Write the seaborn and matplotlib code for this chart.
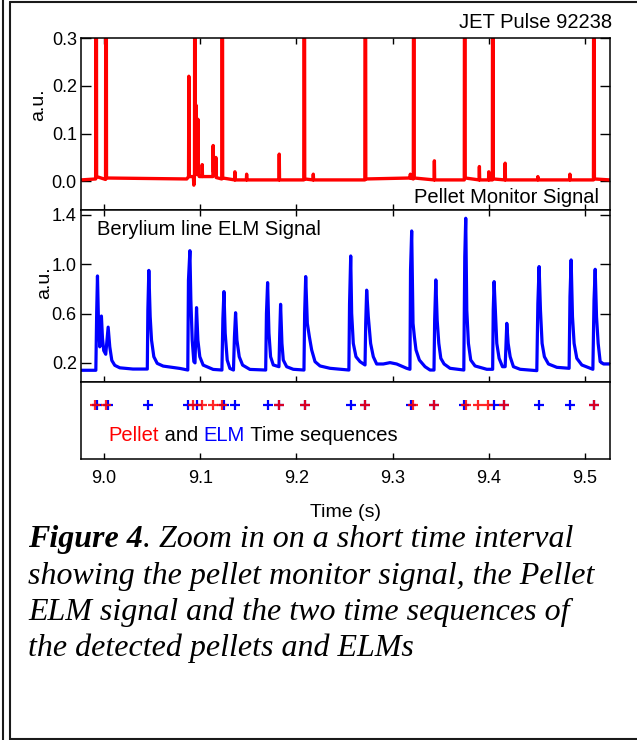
import matplotlib
matplotlib.use("Agg")
import matplotlib.pyplot as plt
from matplotlib.lines import Line2D
import seaborn as sns
import pandas as pd

# ---------------- data ----------------
# Pellet monitor signal: traced vertices (time [s], a.u.)
pellet_sig_t = [8.976, 8.9912, 8.9917, 8.9922, 9.0015, 9.0020, 9.0025,
                9.0860, 9.0878, 9.0881, 9.0884, 9.0928, 9.0933, 9.0938, 9.0940,
                9.0944, 9.0948,
                9.0951, 9.0954, 9.0957, 9.0972, 9.0975, 9.0978, 9.0990,
                9.1017, 9.1020, 9.1023, 9.1131, 9.1134, 9.1137, 9.1159, 9.1162,
                9.1165, 9.1223, 9.1228, 9.1233, 9.1357, 9.1360, 9.1363,
                9.1479, 9.1482, 9.1485, 9.1818, 9.1821, 9.1824, 9.2076, 9.2081,
                9.2086, 9.2172, 9.2175, 9.2178, 9.2711, 9.2716, 9.2721,
                9.3181, 9.3184, 9.3187, 9.3215, 9.3220, 9.3225, 9.3431, 9.3434,
                9.3437, 9.3745, 9.3750, 9.3755, 9.3899, 9.3902, 9.3905,
                9.3997, 9.4000, 9.4003, 9.4037, 9.4042, 9.4047, 9.4167, 9.4170,
                9.4173, 9.4507, 9.4510, 9.4513, 9.4840, 9.4843, 9.4846,
                9.5088, 9.5093, 9.5098, 9.526]
pellet_sig_v = [0.003, 0.005, 1.0, 0.010, 0.004, 1.0, 0.007,
                0.005, 0.010, 0.22, 0.010, 0.010, -0.008, 0.010, 0.010,
                1.0, 0.020,
                0.015, 0.16, 0.020, 0.015, 0.13, 0.015, 0.010,
                0.010, 0.035, 0.010, 0.010, 0.075, 0.020, 0.012, 0.050,
                0.008, 0.005, 1.0, 0.007, 0.003, 0.020, 0.003,
                0.003, 0.015, 0.003, 0.003, 0.057, 0.003, 0.003, 1.0,
                0.005, 0.003, 0.015, 0.003, 0.003, 1.0, 0.005,
                0.007, 0.015, 0.007, 0.005, 1.0, 0.007, 0.003, 0.043,
                0.003, 0.003, 1.0, 0.007, 0.003, 0.031, 0.003,
                0.003, 0.020, 0.003, 0.003, 1.0, 0.005, 0.003, 0.038,
                0.003, 0.003, 0.010, 0.003, 0.003, 0.015, 0.003,
                0.003, 1.0, 0.005, 0.003]

# Beryllium line ELM signal: traced vertices (time [s], a.u.)
elm_sig_t = [8.976, 8.985, 8.9914, 8.9923, 8.9931, 8.9941, 8.9955, 8.9972, 8.9983,
             8.9996, 9.0017, 9.0042, 9.0059, 9.0080, 9.0111, 9.0163, 9.0300, 9.0449,
             9.0455, 9.0465, 9.0479, 9.0493, 9.0517, 9.0552, 9.0614, 9.0788, 9.0870,
             9.0877, 9.0892, 9.0902, 9.0916, 9.0933, 9.0945,
             9.0954, 9.0961, 9.0975, 9.0995, 9.1030, 9.1134, 9.1225,
             9.1235, 9.1246, 9.1259, 9.1280, 9.1308, 9.1345,
             9.1355, 9.1367, 9.1381, 9.1405, 9.1440, 9.1516, 9.1680,
             9.1688, 9.1700, 9.1714, 9.1731, 9.1759, 9.1818,
             9.1826, 9.1835, 9.1849, 9.1863, 9.1898, 9.1967, 9.2078,
             9.2085, 9.2096, 9.2113, 9.2134, 9.2158, 9.2193, 9.2245, 9.2349, 9.2545,
             9.2552, 9.2564, 9.2574, 9.2591, 9.2619, 9.2661, 9.2713,
             9.2720, 9.2730, 9.2747, 9.2771, 9.2799, 9.2834, 9.2903, 9.2973, 9.3042,
             9.3146, 9.3180,
             9.3186, 9.3198, 9.3212, 9.3226, 9.3243, 9.3278, 9.3337, 9.3389, 9.3430,
             9.3437, 9.3449, 9.3463, 9.3480, 9.3501, 9.3535, 9.3597, 9.3740,
             9.3750, 9.3760, 9.3771, 9.3788, 9.3812, 9.3857, 9.3979, 9.4040,
             9.4046, 9.4055, 9.4069, 9.4083, 9.4107, 9.4142, 9.4170,
             9.4178, 9.4187, 9.4201, 9.4222, 9.4256, 9.4326, 9.4499,
             9.4510, 9.4523, 9.4537, 9.4554, 9.4578, 9.4620, 9.4707, 9.4835,
             9.4844, 9.4856, 9.4870, 9.4887, 9.4915, 9.4967, 9.5082,
             9.5094, 9.5106, 9.5120, 9.5137, 9.5158, 9.5193, 9.526]
elm_sig_v = [0.140, 0.140, 0.140, 0.620, 0.905, 0.550, 0.330, 0.580, 0.400,
             0.300, 0.270, 0.490, 0.330, 0.220, 0.180, 0.160, 0.150, 0.150,
             0.630, 0.950, 0.575, 0.385, 0.250, 0.196, 0.174, 0.155, 0.142,
             0.870, 1.110, 0.710, 0.385, 0.210, 0.200,
             0.466, 0.648, 0.385, 0.250, 0.182, 0.147, 0.142,
             0.560, 0.778, 0.440, 0.223, 0.155, 0.142,
             0.410, 0.607, 0.385, 0.250, 0.182, 0.147, 0.142,
             0.600, 0.851, 0.440, 0.250, 0.183, 0.169,
             0.440, 0.675, 0.358, 0.223, 0.169, 0.148, 0.142,
             0.600, 0.900, 0.521, 0.413, 0.305, 0.210, 0.175, 0.156, 0.142,
             0.680, 1.067, 0.602, 0.358, 0.250, 0.210, 0.183,
             0.520, 0.790, 0.575, 0.358, 0.250, 0.191, 0.191, 0.202, 0.191,
             0.156, 0.148,
             0.950, 1.270, 0.521, 0.413, 0.305, 0.223, 0.169, 0.142, 0.142,
             0.550, 0.873, 0.548, 0.358, 0.237, 0.191, 0.156, 0.142,
             1.060, 1.373, 0.629, 0.358, 0.223, 0.175, 0.148, 0.148,
             0.630, 0.859, 0.602, 0.358, 0.237, 0.169, 0.169,
             0.345, 0.521, 0.358, 0.250, 0.169, 0.148, 0.137,
             0.680, 0.981, 0.629, 0.358, 0.250, 0.191, 0.164, 0.156,
             0.740, 1.035, 0.575, 0.358, 0.237, 0.183, 0.148,
             0.710, 0.959, 0.575, 0.358, 0.210, 0.191, 0.191]

# Detected time sequences (s)
pellet_times = [8.9910, 9.0020, 9.0926, 9.1013, 9.1128, 9.1222, 9.1821, 9.2088,
                9.2713, 9.3215, 9.3434, 9.3764, 9.3886, 9.3990, 9.4162, 9.5094]
elm_times = [8.9930, 9.0042, 9.0458, 9.0874, 9.0961, 9.1246, 9.1360, 9.1707,
             9.1821, 9.2088, 9.2567, 9.2713, 9.3190, 9.3434, 9.3743, 9.4055,
             9.4162, 9.4523, 9.4846, 9.5094]

x_ticks = [9.0, 9.1, 9.2, 9.3, 9.4, 9.5]
x_tick_labels = ["9.0", "9.1", "9.2", "9.3", "9.4", "9.5"]
pm_ticks = [0.0, 0.1, 0.2, 0.3]
pm_tick_labels = ["0.0", "0.1", "0.2", "0.3"]
elm_ticks = [0.2, 0.6, 1.0, 1.4]
elm_tick_labels = ["0.2", "0.6", "1.0", "1.4"]

# ---------------- styling ----------------
sns.set_style("ticks")
plt.rcParams["font.family"] = ["Liberation Sans", "DejaVu Sans"]
for key in ("text.color", "axes.labelcolor", "xtick.color", "ytick.color",
            "axes.edgecolor"):
    plt.rcParams[key] = "black"
plt.rcParams["axes.linewidth"] = 1.1

RED = "#ff0000"
BLUE = "#0000ff"
ANN = 14.5   # annotation font size
TCK = 13     # tick label font size

fig = plt.figure(figsize=(6.37, 7.40), dpi=100)
fig.patch.set_facecolor("white")

L, W = 0.1272, 0.8304
ax1 = fig.add_axes([L, 0.7162, W, 0.2324])
ax2 = fig.add_axes([L, 0.4838, W, 0.2324])
ax3 = fig.add_axes([L, 0.3797, W, 0.1041])

xlim = (8.976, 9.526)

# top: pellet monitor
pm_df = pd.DataFrame({"t": pellet_sig_t, "v": pellet_sig_v})
sns.lineplot(data=pm_df, x="t", y="v", ax=ax1, color=RED, linewidth=2.4,
             estimator=None, sort=False)
ax1.set_ylim(-0.06, 0.30)
ax1.set_yticks(pm_ticks)
ax1.set_yticklabels(pm_tick_labels)

# middle: ELM
elm_df = pd.DataFrame({"t": elm_sig_t, "v": elm_sig_v})
sns.lineplot(data=elm_df, x="t", y="v", ax=ax2, color=BLUE, linewidth=2.3,
             estimator=None, sort=False)
ax2.set_ylim(0.045, 1.44)
ax2.set_yticks(elm_ticks)
ax2.set_yticklabels(elm_tick_labels)

# bottom: time sequences
row = 0.70
elm_ev = pd.DataFrame({"t": elm_times, "y": [row] * len(elm_times)})
pel_ev = pd.DataFrame({"t": pellet_times, "y": [row] * len(pellet_times)})
sns.scatterplot(data=elm_ev, x="t", y="y", ax=ax3, marker="+", s=60,
                color=BLUE, linewidth=1.6)
sns.scatterplot(data=pel_ev, x="t", y="y", ax=ax3, marker="+", s=60,
                color=RED, linewidth=1.6, alpha=0.85)
ax3.set_ylim(0, 1)
ax3.set_yticks([])

for ax in (ax1, ax2, ax3):
    ax.set_xlim(*xlim)
    ax.set_xticks(x_ticks)
    ax.set_xlabel("")
    ax.set_ylabel("")
    for s in ax.spines.values():
        s.set_visible(True)
        s.set_linewidth(1.1)
        s.set_color("black")

for ax in (ax1, ax2):
    ax.tick_params(axis="x", direction="in", top=True, bottom=True,
                   labelbottom=False, length=4, width=1.0)
    ax.tick_params(axis="y", direction="in", left=True, right=True,
                   length=7, width=1.0, labelsize=TCK, pad=3)
    ax.set_ylabel("a.u.", fontsize=14)

ax1.yaxis.set_label_coords(-0.065, 0.61)
ax2.yaxis.set_label_coords(-0.053, 0.58)

ax3.set_xticklabels(x_tick_labels)
ax3.tick_params(axis="x", direction="in", top=False, bottom=True,
                length=4, width=1.0, labelsize=TCK, pad=8)
ax3.set_xlabel("Time (s)", fontsize=14, labelpad=12)

# annotations
fig.text(612 / 637, 1 - 22 / 740, "JET Pulse 92238", ha="right", va="center",
         fontsize=ANN)
ax1.text(0.979, 0.075, "Pellet Monitor Signal", transform=ax1.transAxes,
         ha="right", va="center", fontsize=ANN)
ax2.text(0.030, 0.884, "Berylium line ELM Signal", transform=ax2.transAxes,
         ha="left", va="center", fontsize=ANN)

t1 = ax3.text(0.051, 0.31, "Pellet", transform=ax3.transAxes, ha="left",
              va="center", fontsize=ANN, color=RED)
t2 = ax3.annotate(" and ", xy=(1, 0), xycoords=t1, ha="left", va="bottom",
                  fontsize=ANN, color="black")
t3 = ax3.annotate("ELM", xy=(1, 0), xycoords=t2, ha="left", va="bottom",
                  fontsize=ANN, color=BLUE)
t4 = ax3.annotate(" Time sequences", xy=(1, 0), xycoords=t3, ha="left",
                  va="bottom", fontsize=ANN, color="black")

# caption
cap_kw = dict(family=["Liberation Serif", "DejaVu Serif"], style="italic",
              fontsize=23, color="black")
c1 = fig.text(28 / 637, 1 - 547 / 740, "Figure 4", weight="bold",
              va="baseline", ha="left", **cap_kw)
fig.add_artist(plt.Annotation(". Zoom in on a short time interval",
                              xy=(1, 0), xycoords=c1, ha="left",
                              va="bottom", **cap_kw))
cap_lines = ["showing the pellet monitor signal, the Pellet",
             "ELM signal and the two time sequences of",
             "the detected pellets and ELMs"]
cap_baselines = [584, 620, 656]
for txt, yb in zip(cap_lines, cap_baselines):
    fig.text(28 / 637, 1 - yb / 740, txt, va="baseline", ha="left", **cap_kw)

# page frame
frame_kw = dict(transform=fig.transFigure, color="#1a1a1a", linewidth=1.5)
fig.add_artist(Line2D([3 / 637, 3 / 637], [0, 1], **frame_kw))
fig.add_artist(Line2D([10 / 637, 10 / 637], [0.5 / 740, 1 - 2 / 740], **frame_kw))
fig.add_artist(Line2D([10 / 637, 1], [1 - 2 / 740, 1 - 2 / 740], **frame_kw))
fig.add_artist(Line2D([10 / 637, 1], [1.5 / 740, 1.5 / 740], **frame_kw))

fig.savefig("out.png", dpi=100)
